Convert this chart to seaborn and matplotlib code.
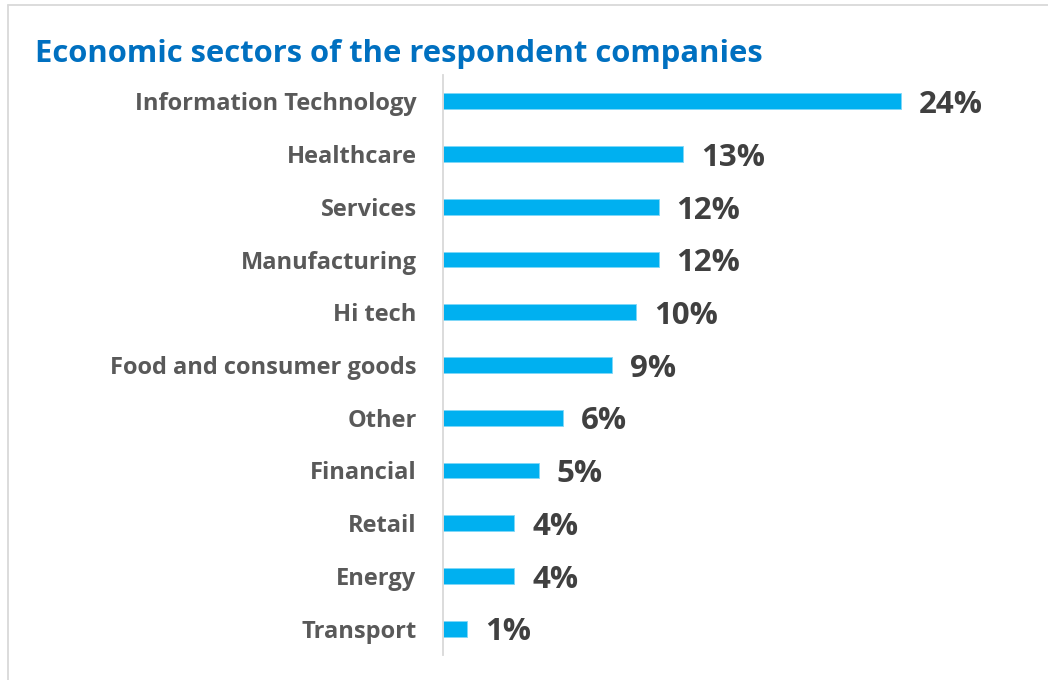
import matplotlib
matplotlib.use("Agg")
import matplotlib.pyplot as plt
from matplotlib.lines import Line2D
import seaborn as sns
import pandas as pd

# Share of respondent companies per economic sector (%)
sectors = [
    "Information Technology", "Healthcare", "Services", "Manufacturing",
    "Hi tech", "Food and consumer goods", "Other", "Financial",
    "Retail", "Energy", "Transport",
]
shares = [24.4, 12.8, 11.5, 11.5, 10.3, 9.0, 6.4, 5.1, 3.8, 3.8, 1.3]
title = "Economic sectors of the respondent companies"

df = pd.DataFrame({"sector": sectors, "share": shares})

sns.set_theme(style="white")
plt.rcParams["font.family"] = ["Open Sans", "DejaVu Sans"]

W, H = 1048, 680
fig = plt.figure(figsize=(W / 100, H / 100), dpi=100)
fig.patch.set_facecolor("white")

# axes placed in pixel terms
ax_left, ax_top, ax_bottom = 443, 75, 655
px_per_pct = 18.76
xmax = 30
ax = fig.add_axes([ax_left / W, (H - ax_bottom) / H,
                   xmax * px_per_pct / W, (ax_bottom - ax_top) / H])

sns.barplot(data=df, x="share", y="sector", orient="h", color="#00B0F0",
            saturation=1, width=0.30, ax=ax, edgecolor="#7fd7f7", linewidth=0.6)

ax.set_xlim(0, xmax)
ax.set_ylim(len(sectors) - 0.5, -0.5)
ax.set_xlabel("")
ax.set_ylabel("")
ax.set_xticks([])
ax.tick_params(axis="y", length=0, pad=19)
for lbl in ax.get_yticklabels():
    lbl.set_fontsize(17)
    lbl.set_fontweight("bold")
    lbl.set_color("#595959")

for side in ["top", "right", "bottom"]:
    ax.spines[side].set_visible(False)
ax.spines["left"].set_color("#d9d9d9")
ax.spines["left"].set_linewidth(1.3)

# value labels sit slightly below the bar centre line
for i, v in enumerate(shares):
    ax.text(v + 0.95, i + 0.07, f"{v:.0f}%", va="center", ha="left",
            fontsize=22.5, fontweight="bold", color="#404040")

fig.text(35 / W, 1 - 62 / H, title, ha="left", va="baseline",
         fontsize=22.3, fontweight="bold", color="#0070C0")

# light frame around the chart area
fig.add_artist(Line2D([8 / W, 8 / W], [0, 1 - 5 / H], color="#d9d9d9",
                      lw=1.3, transform=fig.transFigure))
fig.add_artist(Line2D([8 / W, 1], [1 - 5 / H, 1 - 5 / H], color="#d9d9d9",
                      lw=1.3, transform=fig.transFigure))

fig.savefig("out.png", dpi=100, facecolor="white")
